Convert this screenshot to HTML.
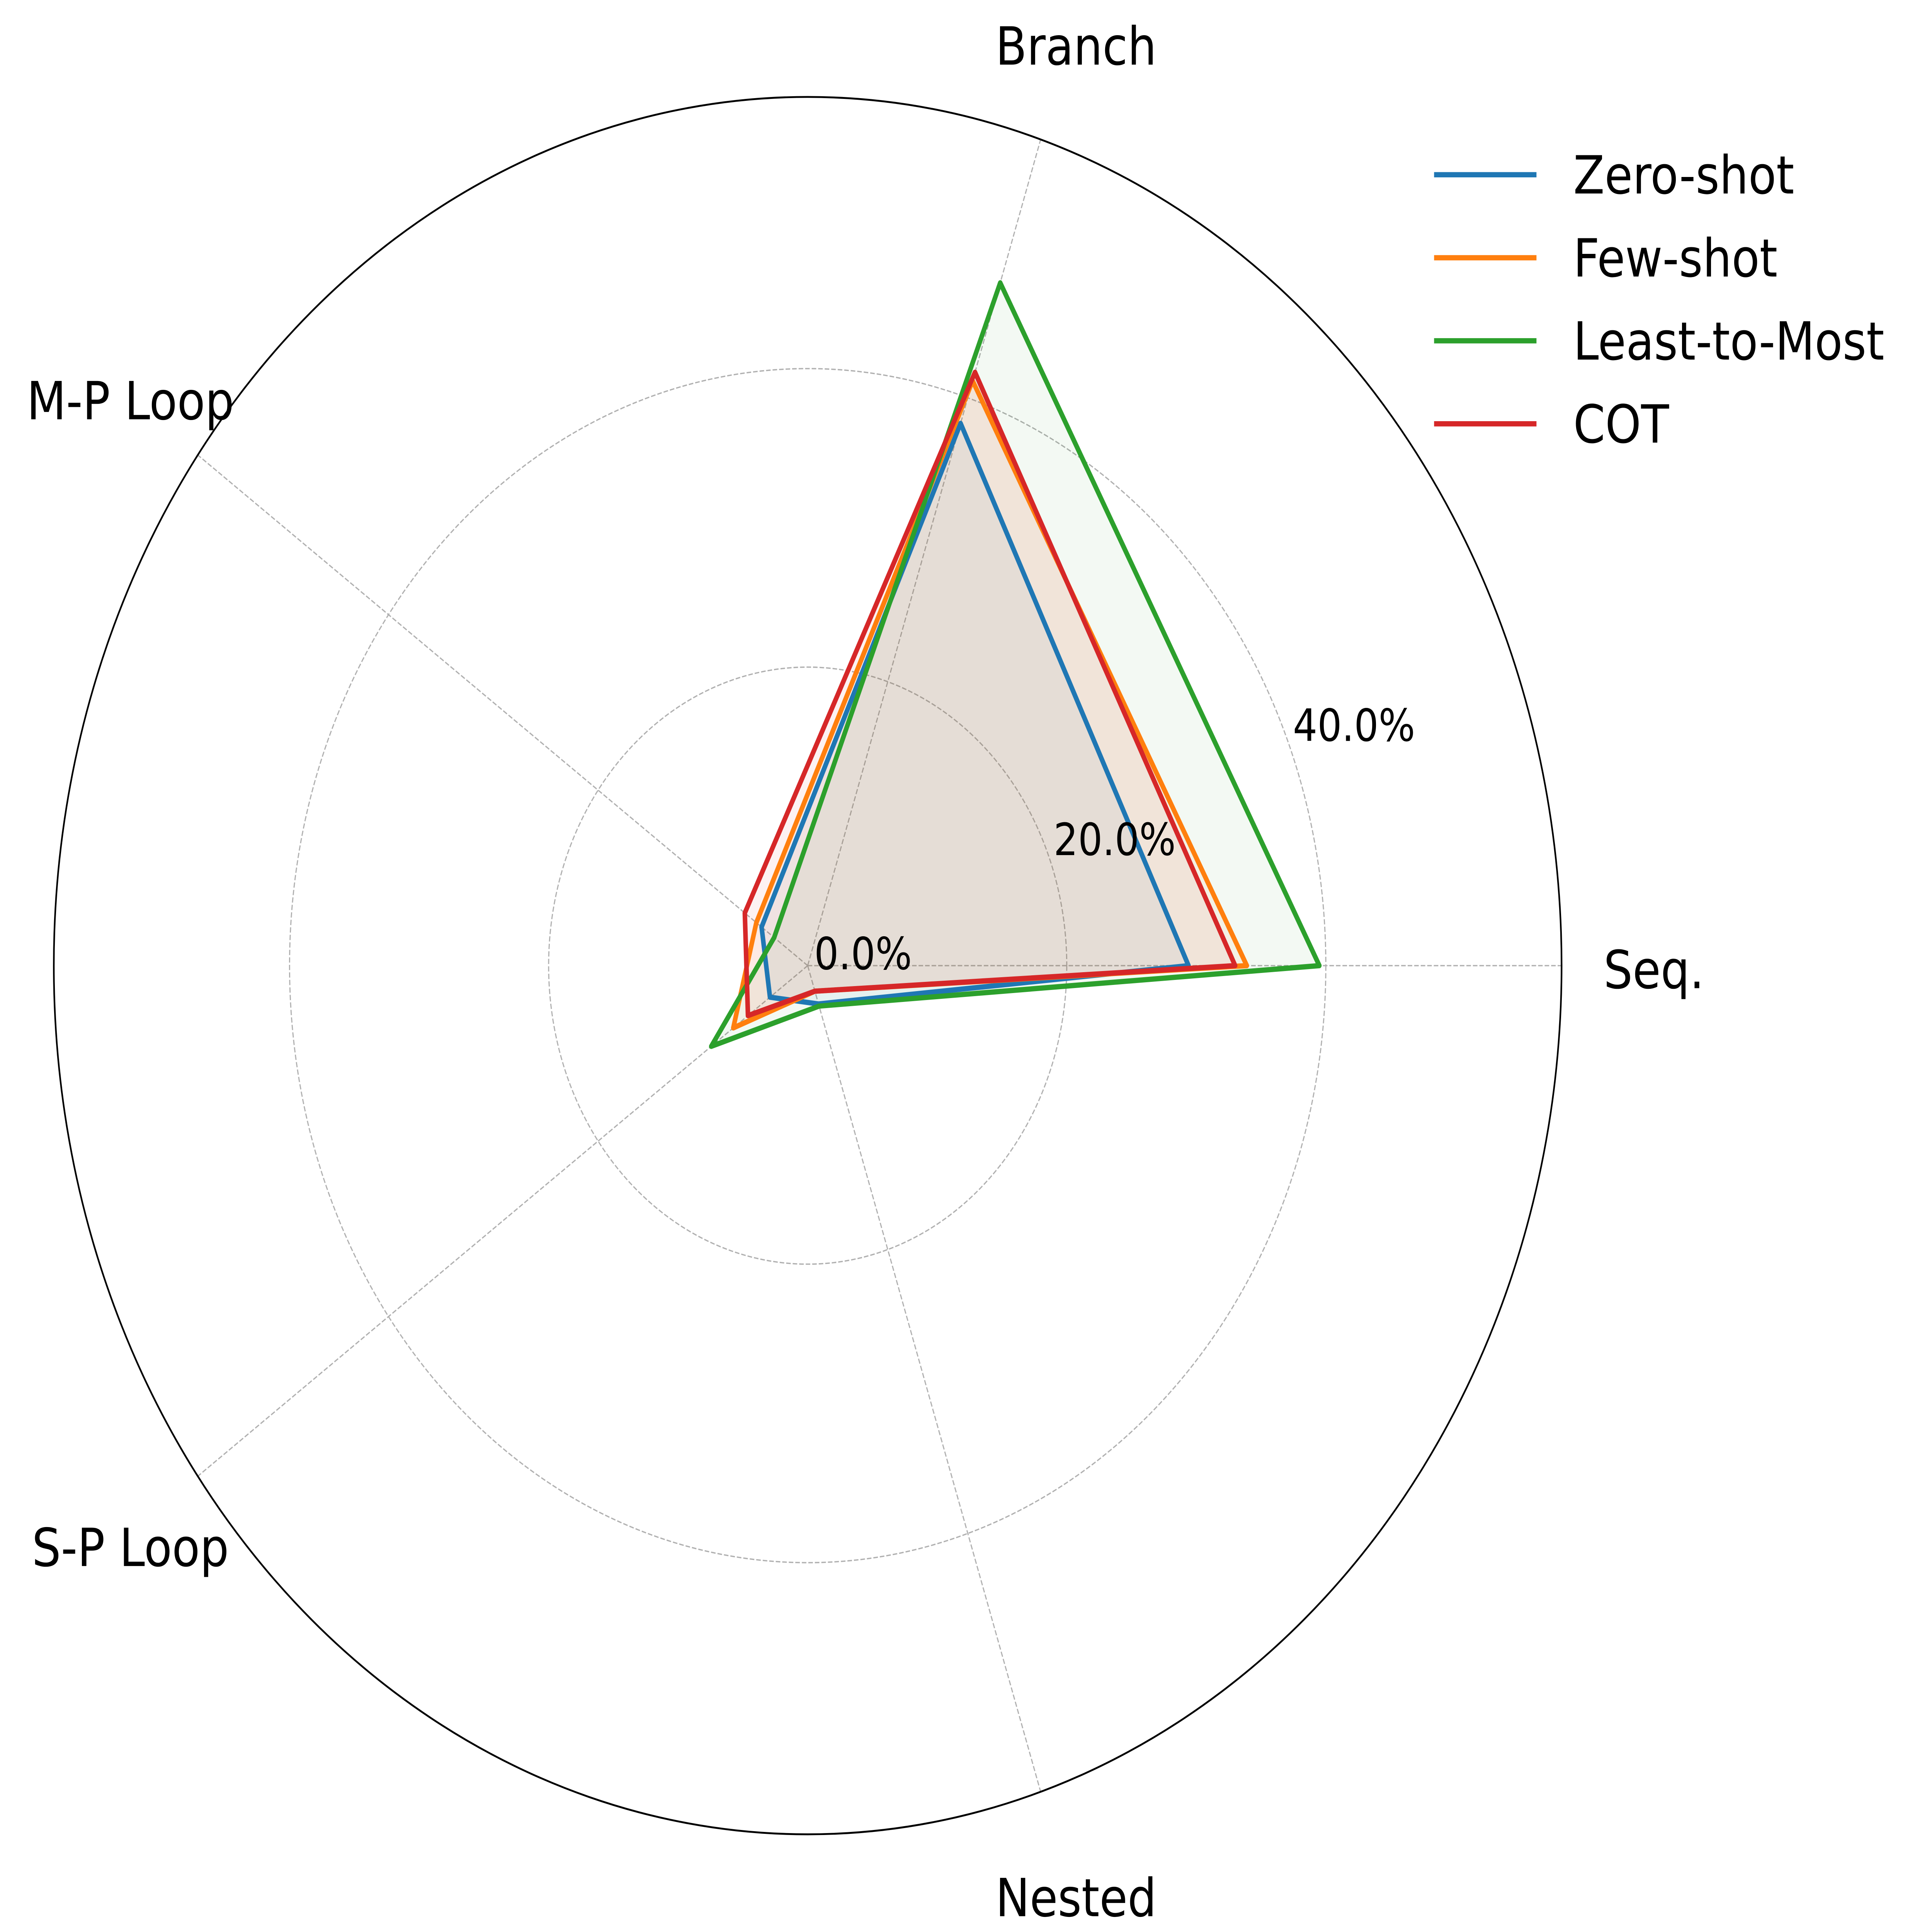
<!DOCTYPE html>
<html><head><meta charset="utf-8"><style>
html,body{margin:0;padding:0;background:#fff;width:100%;height:100%;overflow:hidden}
svg{display:block;width:100vw;height:100vh}
text{font-family:"DejaVu Sans","Liberation Sans",sans-serif;fill:#000}
</style></head><body>
<svg id="chart" viewBox="0 0 5925 5142" preserveAspectRatio="none" xmlns="http://www.w3.org/2000/svg">
<g id="grid"></g>
<g id="series"></g>
<g id="labels"></g>
<g id="legend"></g>
</svg>
<script>
const categories = ["Seq.", "Branch", "M-P Loop", "S-P Loop", "Nested"];
const seriesNames = ["Zero-shot", "Few-shot", "Least-to-Most", "COT"];
const zeroShot = [29.4, 38.2, 4.4, 3.6, 2.7];
const fewShot = [33.9, 41.2, 4.9, 7.1, 1.8];
const leastToMost = [39.5, 48.1, 3.2, 9.2, 2.85];
const cot = [33.0, 41.8, 6.0, 5.7, 1.8];
const rTicks = [0, 20, 40];
const rTickLabels = ["0.0%", "20.0%", "40.0%"];
const rMax = 58.2;

const NS = "http://www.w3.org/2000/svg";
const cx = 2477, cy = 2570, R = 2312;
const colors = ["#1f77b4", "#ff7f0e", "#2ca02c", "#d62728"];
const allSeries = [zeroShot, fewShot, leastToMost, cot];
function rScale(v){ return v / rMax * R; }
function ang(i){ return i * 2 * Math.PI / categories.length; }
function pt(i, v){ const a = ang(i), r = rScale(v); return [cx + r*Math.cos(a), cy - r*Math.sin(a)]; }
function mk(tag, attrs, parent){ const e = document.createElementNS(NS, tag); for (const k in attrs) e.setAttribute(k, attrs[k]); parent.appendChild(e); return e; }

const grid = document.getElementById('grid');
rTicks.forEach((t, k) => {
  if (t <= 0) return;
  const c = mk('circle', {cx: cx, cy: cy, r: rScale(t), fill: 'none', stroke: '#b0b0b0', 'stroke-width': 3.5, 'stroke-dasharray': '14 6'}, grid);
  
  
});
categories.forEach((c, i) => {
  const [x, y] = pt(i, rMax);
  const l = mk('line', {x1: cx, y1: cy, x2: x, y2: y, stroke: '#b0b0b0', 'stroke-width': 3.5, 'stroke-dasharray': '14 6'}, grid);
  
  
});
const outer = mk('circle', {cx: cx, cy: cy, r: R, fill: 'none', stroke: '#000', 'stroke-width': 5}, grid);



const sg = document.getElementById('series');
allSeries.forEach((vals, s) => {
  const pts = vals.map((v, i) => pt(i, v).join(',')).join(' ');
  const f = mk('polygon', {points: pts, fill: colors[s], 'fill-opacity': 0.06, stroke: 'none'}, sg);
  
  
});
allSeries.forEach((vals, s) => {
  const pts = vals.map((v, i) => pt(i, v).join(',')).join(' ');
  const p = mk('polygon', {points: pts, fill: 'none', stroke: colors[s], 'stroke-width': 14, 'stroke-linejoin': 'round'}, sg);
  
  
});

const lg = document.getElementById('labels');
const catPos = [[4918, 2630, 'start'], [3300, 172, 'middle'], [400, 1116, 'middle'], [400, 4168, 'middle'], [3300, 5100, 'middle']];
categories.forEach((c, i) => {
  const t = mk('text', {x: catPos[i][0], y: catPos[i][1], 'font-size': 140, 'text-anchor': catPos[i][2]}, lg);
  t.textContent = c;
  
  
});
const tickAng = 22.5 * Math.PI / 180;
rTicks.forEach((t, k) => {
  const r = rScale(t);
  const x = cx + r*Math.cos(tickAng) + 20, y = cy - r*Math.sin(tickAng) + 10;
  const e = mk('text', {x: x, y: y, 'font-size': 118}, lg);
  e.textContent = rTickLabels[k];
  
  
});

const leg = document.getElementById('legend');
seriesNames.forEach((n, s) => {
  const y = 465 + s * 221;
  const l = mk('line', {x1: 4398, y1: y, x2: 4712, y2: y, stroke: colors[s], 'stroke-width': 14}, leg);
  
  
  const t = mk('text', {x: 4825, y: y + 50, 'font-size': 140}, leg);
  t.textContent = n;
  
  
});
</script>
</body></html>
